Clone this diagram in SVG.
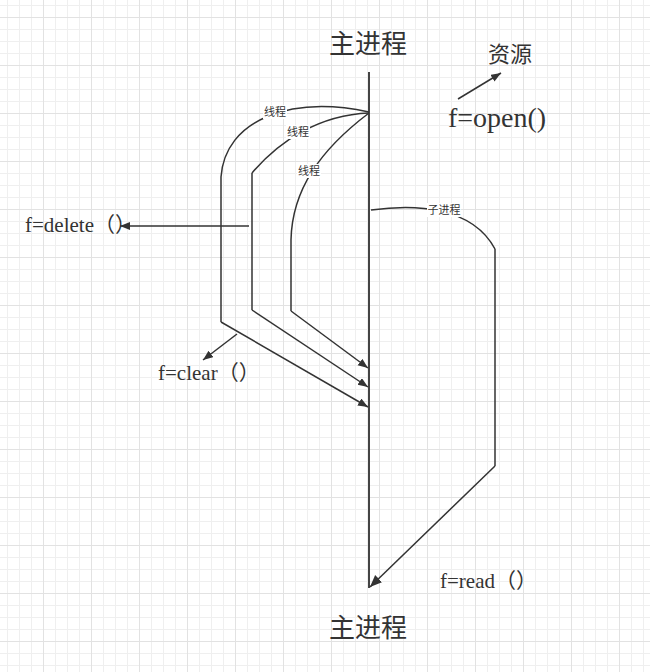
<svg xmlns="http://www.w3.org/2000/svg" width="650" height="672" viewBox="0 0 650 672">
<defs>
<pattern id="grid" patternUnits="userSpaceOnUse" x="43" y="17" width="48" height="48">
<path d="M12.5 0V48M24.5 0V48M36.5 0V48M0 12.5H48M0 24.5H48M0 36.5H48" stroke="#efefef" stroke-width="1" fill="none"/>
<path d="M0.5 0V48M0 0.5H48" stroke="#e2e2e2" stroke-width="1" fill="none"/>
</pattern>
<marker id="arr" markerUnits="userSpaceOnUse" markerWidth="12" markerHeight="10" refX="10" refY="4" orient="auto">
<path d="M0,0 L10,4 L0,8 Z" fill="#333"/>
</marker>
<marker id="arrBig" markerUnits="userSpaceOnUse" markerWidth="14" markerHeight="12" refX="12" refY="5" orient="auto">
<path d="M0,0 L12,5 L0,10 Z" fill="#333"/>
</marker>
</defs>
<style>
.ln{fill:none;stroke:#333;stroke-width:1.5}
.main{fill:none;stroke:#444;stroke-width:2}
.cjk{font-family:"Noto Sans CJK SC","Noto Sans",sans-serif;fill:#333}
.ser{font-family:"Liberation Serif","Noto Sans CJK SC",serif;fill:#333}
.lbl{font-family:"Noto Sans CJK SC",sans-serif;font-size:11px;fill:#333;text-anchor:middle}
.bg{fill:#fff}
</style>
<rect width="650" height="672" fill="#fff"/>
<rect width="650" height="672" fill="url(#grid)"/>

<g id="connectors">
<line class="main" x1="369" y1="72" x2="369" y2="588"/>
<!-- thread 1 -->
<path class="ln" d="M221,177 C225,120 290,95 369,112"/>
<line class="ln" x1="221" y1="177" x2="221" y2="322"/>
<line class="ln" x1="221" y1="322" x2="368" y2="407" marker-end="url(#arr)"/>
<!-- thread 2 -->
<path class="ln" d="M252,173 C280,140 320,115 369,113"/>
<line class="ln" x1="252" y1="173" x2="252" y2="310"/>
<line class="ln" x1="252" y1="310" x2="368" y2="387" marker-end="url(#arr)"/>
<!-- thread 3 -->
<path class="ln" d="M291,240 C292,190 320,150 369,113"/>
<line class="ln" x1="291" y1="240" x2="291" y2="311"/>
<line class="ln" x1="291" y1="311" x2="368" y2="368" marker-end="url(#arr)"/>
<!-- sub process -->
<path class="ln" d="M371,210 C415,204 472,206 495,249"/>
<line class="ln" x1="495" y1="249" x2="495" y2="466"/>
<line class="ln" x1="495" y1="466" x2="370" y2="587" marker-end="url(#arrBig)"/>
<!-- function arrows -->
<line class="ln" x1="249" y1="226" x2="120" y2="226" marker-end="url(#arr)"/>
<line class="ln" x1="237" y1="334" x2="203" y2="360" marker-end="url(#arr)"/>
<line class="ln" x1="458" y1="99" x2="501" y2="73" marker-end="url(#arr)"/>
</g>

<g id="label-thread1"><rect class="bg" x="263" y="105" width="24" height="14"/><text class="lbl" x="275" y="116">线程</text></g>
<g id="label-thread2"><rect class="bg" x="286" y="125" width="24" height="14"/><text class="lbl" x="298" y="136">线程</text></g>
<g id="label-thread3"><rect class="bg" x="297" y="164" width="24" height="14"/><text class="lbl" x="309" y="175">线程</text></g>
<g id="label-sub"><rect class="bg" x="427" y="203" width="34" height="14"/><text class="lbl" x="444" y="214">子进程</text></g>

<g id="main-top"><text class="cjk" x="368" y="53" font-size="26" text-anchor="middle">主进程</text></g>
<g id="main-bottom"><text class="cjk" x="368" y="637" font-size="26" text-anchor="middle">主进程</text></g>
<g id="resource"><text class="cjk" x="510" y="62" font-size="22" text-anchor="middle">资源</text></g>
<g id="open"><text class="ser" x="448" y="127" font-size="28">f=open()</text></g>
<g id="delete"><text class="ser" x="25" y="232" font-size="21">f=delete（）</text></g>
<g id="clear"><text class="ser" x="158" y="380" font-size="21">f=clear（）</text></g>
<g id="read"><text class="ser" x="440" y="588" font-size="21">f=read（）</text></g>
</svg>
